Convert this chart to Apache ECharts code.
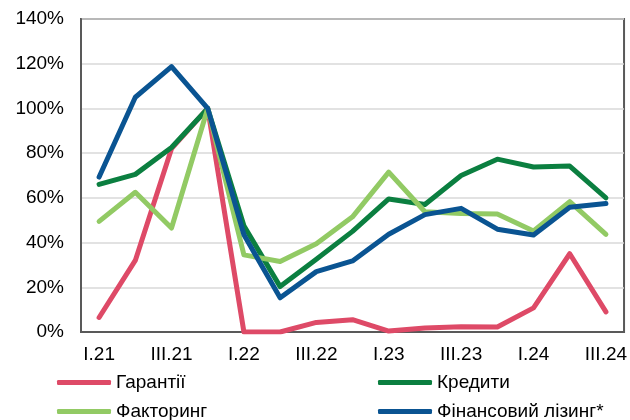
<!DOCTYPE html>
<html>
<head>
<meta charset="utf-8">
<script src="https://cdn.jsdelivr.net/npm/echarts@6/dist/echarts.min.js"></script>
<style>
  html, body { margin: 0; padding: 0; background: #fff; }
  #chart { width: 630px; height: 420px; }
</style>
</head>
<body>
<div id="chart"></div>
<script>
// Quarters, I.21 .. III.24
const quarters = ['I.21', 'II.21', 'III.21', 'IV.21', 'I.22', 'II.22', 'III.22', 'IV.22',
  'I.23', 'II.23', 'III.23', 'IV.23', 'I.24', 'II.24', 'III.24'];

// Values in %
const guarantees = [6.5, 32, 82, 100, 0, 0, 4.3, 5.5, 0.4, 1.8, 2.3, 2.2, 10.8, 35, 9];
const credits = [66, 70.5, 82.5, 100, 47.5, 20.3, 32.5, 45, 59.5, 57, 70, 77.3, 73.8, 74.2, 60];
const factoring = [49.5, 62.5, 46.5, 100, 34.5, 31.5, 39.5, 51.5, 71.5, 53.8, 53, 52.8, 45.2, 58.3, 43.7];
const leasing = [69.3, 105, 118.7, 100, 43.5, 15.3, 27, 31.8, 43.7, 52.5, 55.3, 46, 43.4, 55.8, 57.5];

const font = 'Arial, "Liberation Sans", sans-serif';

function line(name, data, color) {
  return {
    name: name,
    type: 'line',
    data: data,
    symbol: 'none',
    color: color,
    lineStyle: { width: 5, color: color, cap: 'round', join: 'round' }
  };
}

function legendCol(left, names) {
  return {
    orient: 'vertical',
    left: left,
    top: 373,
    height: 70,
    padding: 0,
    data: names,
    icon: 'roundRect',
    itemWidth: 54,
    itemHeight: 5,
    itemGap: 10,
    textStyle: { fontFamily: font, fontSize: 19, color: '#000' }
  };
}

const chart = echarts.init(document.getElementById('chart'));
chart.setOption({
  animation: false,
  grid: {
    left: 81, right: 4, top: 19, bottom: 88,
    show: true, borderColor: '#595959', borderWidth: 2
  },
  legend: [
    legendCol(57, ['Гарантії', 'Факторинг']),
    legendCol(378, ['Кредити', 'Фінансовий лізинг*'])
  ],
  xAxis: {
    type: 'category',
    data: quarters,
    boundaryGap: true,
    axisLine: { lineStyle: { color: '#595959', width: 2 } },
    axisTick: { inside: true, length: 6, interval: 0, lineStyle: { color: '#595959', width: 2 } },
    axisLabel: { interval: 1, margin: 13, fontFamily: font, fontSize: 19, color: '#000' }
  },
  yAxis: {
    type: 'value',
    min: 0, max: 140, interval: 20,
    axisLine: { show: true, lineStyle: { color: '#595959', width: 2 } },
    axisTick: { show: false },
    splitLine: { lineStyle: { color: '#d9d9d9', width: 1.5 } },
    axisLabel: { formatter: '{value}%', margin: 17, fontFamily: font, fontSize: 19, color: '#000' }
  },
  series: [
    line('Гарантії', guarantees, '#de4a67'),
    line('Кредити', credits, '#0b7f40'),
    line('Факторинг', factoring, '#92ca64'),
    line('Фінансовий лізинг*', leasing, '#0a5492')
  ]
});
</script>
</body>
</html>
